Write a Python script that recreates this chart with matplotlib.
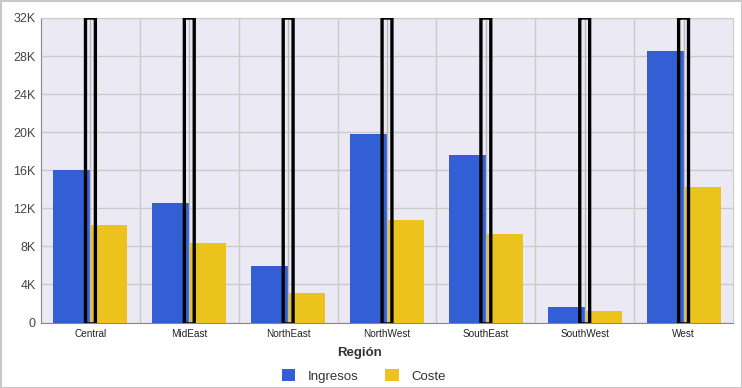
import matplotlib.pyplot as plt
import numpy as np
from matplotlib.patches import FancyBboxPatch, Rectangle
from matplotlib.ticker import FuncFormatter

plt.rcParams['font.family'] = ['Liberation Sans', 'DejaVu Sans']

regions = ['Central', 'MidEast', 'NorthEast', 'NorthWest', 'SouthEast', 'SouthWest', 'West']
ingresos = [16000, 12600, 5900, 19800, 17600, 1650, 28550]
coste = [10250, 8350, 3100, 10800, 9300, 1200, 14250]
y_ticks = [0, 4000, 8000, 12000, 16000, 20000, 24000, 28000, 32000]

fig = plt.figure(figsize=(7.42, 3.88), dpi=100)
ax = fig.add_axes([41/742, 1-322.5/388, 692/742, 304.5/388])
ax.set_facecolor('#ebe9f3')

x = np.arange(len(regions))
w = 0.375
ax.bar(x - w/2, ingresos, w, color='#335fd4', label='Ingresos', zorder=3)
ax.bar(x + w/2, coste, w, color='#ecc31c', label='Coste', zorder=3)

# outlined boxes at each category centre
for xi in x:
    ax.plot([xi, xi], [0, 32000], color='#bbbbbb', lw=1, zorder=4)
    box = FancyBboxPatch((xi - 0.05, -150), 0.1, 32150,
                         boxstyle='round,pad=0,rounding_size=0.015',
                         fill=False, edgecolor='black', lw=2.4, zorder=5,
                         mutation_aspect=3000)
    ax.add_patch(box)

ax.set_xlim(-0.5, len(regions) - 0.5)
ax.set_ylim(0, 32000)
ax.set_yticks(y_ticks)
ax.yaxis.set_major_formatter(FuncFormatter(lambda v, p: '0' if v == 0 else f'{int(v/1000)}K'))
ax.set_xticks(x)
ax.set_xticklabels(regions, fontsize=7.2)
ax.set_xticks(np.arange(0.5, len(regions) - 0.5), minor=True)
ax.tick_params(axis='y', labelsize=9, colors='#444444', length=0, pad=4)
ax.tick_params(axis='x', which='both', length=0, pad=5, colors='#222222')
ax.grid(True, axis='y', color='#cbcbcb', lw=1, zorder=0)
ax.grid(True, axis='x', which='minor', color='#cbcbcb', lw=1, zorder=0)
for s in ['top', 'right']:
    ax.spines[s].set_color('#cbcbcb')
for s in ['left', 'bottom']:
    ax.spines[s].set_color('#888888')

fig.text(359/742, 1-353/388, 'Región', ha='center', va='center',
         fontsize=9.5, fontweight='bold', color='#333333')
leg = fig.legend(loc='center', bbox_to_anchor=(364/742, 1-376/388), ncol=2,
                 frameon=False, fontsize=9.5, handlelength=1.0, handleheight=1.0,
                 columnspacing=2.0, handletextpad=1.0, borderpad=0)
for t in leg.get_texts():
    t.set_color('#333333')

fig.add_artist(Rectangle((0.5/742, 0.5/388), 1-1/742, 1-1/388, transform=fig.transFigure,
                         fill=False, edgecolor='#c8c8c8', lw=1.5))

fig.savefig('out.png', dpi=100)
